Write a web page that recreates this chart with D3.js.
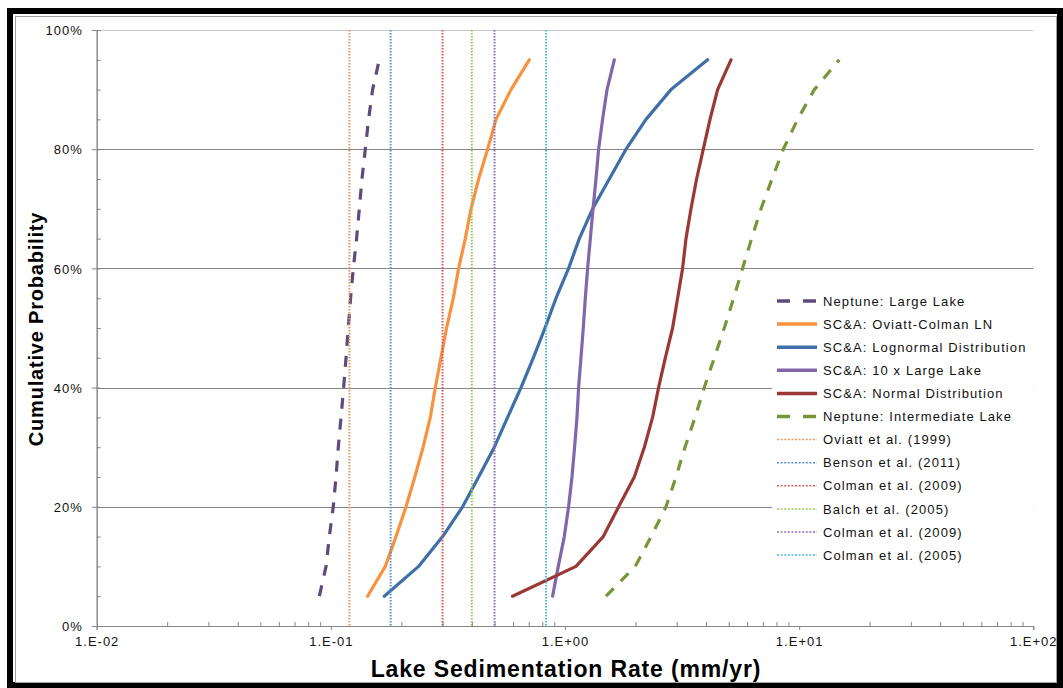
<!DOCTYPE html>
<html>
<head>
<meta charset="utf-8">
<script src="https://cdn.jsdelivr.net/npm/d3@7"></script>
<style>
  body { margin: 0; background: #fff; }
  text { font-family: "Liberation Sans", Arial, sans-serif; }
</style>
</head>
<body>
<svg id="chart" width="1063" height="688"></svg>
<script>
// cumulative probability levels shared by all curves
var probs = [0.05, 0.10, 0.15, 0.20, 0.25, 0.30, 0.35, 0.40, 0.45, 0.50,
             0.55, 0.60, 0.65, 0.70, 0.75, 0.80, 0.85, 0.90, 0.95];

// sedimentation rate (mm/yr) at each level
var neptuneLarge = [0.0893, 0.0954, 0.0985, 0.1024, 0.1052, 0.1076, 0.1105, 0.1134, 0.1161, 0.1187,
                    0.1214, 0.1247, 0.1288, 0.1323, 0.1358, 0.1403, 0.1449, 0.1508, 0.1610];
var oviattColman = [0.1435, 0.1708, 0.1897, 0.2094, 0.2283, 0.2477, 0.2659, 0.2793, 0.2954, 0.3120,
                    0.3334, 0.3513, 0.3752, 0.3968, 0.4276, 0.4671, 0.5074, 0.5879, 0.7039];
var lognormal = [0.1691, 0.2370, 0.3001, 0.3653, 0.4276, 0.4990, 0.5686, 0.6487, 0.7322, 0.8214,
                 0.9154, 1.036, 1.151, 1.312, 1.546, 1.822, 2.218, 2.836, 4.064];
var tenLarge = [0.885, 0.936, 0.993, 1.036, 1.071, 1.099, 1.125, 1.143, 1.170, 1.197,
                1.221, 1.249, 1.283, 1.317, 1.356, 1.392, 1.447, 1.512, 1.624];
var normalDist = [0.597, 1.114, 1.457, 1.694, 1.977, 2.182, 2.366, 2.510, 2.682, 2.881,
                  3.026, 3.178, 3.287, 3.452, 3.648, 3.896, 4.162, 4.485, 5.117];
var neptuneInter = [1.496, 1.996, 2.330, 2.700, 2.979, 3.254, 3.592, 3.935, 4.341, 4.790,
                    5.248, 5.734, 6.265, 6.873, 7.656, 8.557, 9.849, 11.61, 14.84];

var curveNames = ["Neptune: Large Lake", "SC&A: Oviatt-Colman LN", "SC&A: Lognormal Distribution",
                  "SC&A: 10 x Large Lake", "SC&A: Normal Distribution", "Neptune: Intermediate Lake"];
var curveValues = [neptuneLarge, oviattColman, lognormal, tenLarge, normalDist, neptuneInter];
var curveColors = ["#5f4a7c", "#f7923f", "#3f6fa6", "#8066aa", "#9a3835", "#77963a"];
var curveDashed = [true, false, false, false, false, true];

// published point estimates, drawn as dotted verticals
var refNames = ["Oviatt et al. (1999)", "Benson et al. (2011)", "Colman et al. (2009)",
                "Balch et al. (2005)", "Colman et al. (2009)", "Colman et al. (2005)"];
var refValues = [0.12, 0.18, 0.30, 0.40, 0.50, 0.83];
var refColors = ["#e8955c", "#5b8fd0", "#d9595a", "#9cc35a", "#8a6fc0", "#4cb8d4"];

var xTicks = [0.01, 0.1, 1, 10, 100];
var xTickLabels = ["1.E-02", "1.E-01", "1.E+00", "1.E+01", "1.E+02"];
var yTicks = [0, 0.2, 0.4, 0.6, 0.8, 1.0];

(function() {
  var svg = d3.select("#chart");
  var pLeft = 96.7, pRight = 1033.3, pTop = 30, pBottom = 626;

  var x = d3.scaleLog().domain([0.01, 100]).range([pLeft, pRight]);
  var y = d3.scaleLinear().domain([0, 1]).range([pBottom, pTop]);

  // outer frame
  svg.append("rect").attr("x", 10).attr("y", 11).attr("width", 1050).attr("height", 674)
    .attr("fill", "#fff").attr("stroke", "#000").attr("stroke-width", 6);
  svg.append("rect").attr("x", 15.5).attr("y", 16.5).attr("width", 1041).attr("height", 666)
    .attr("fill", "none").attr("stroke", "#a0a0a0").attr("stroke-width", 1);

  // gridlines
  svg.append("g").selectAll("line").data(yTicks.slice(1)).enter().append("line")
    .attr("x1", pLeft).attr("x2", pRight)
    .attr("y1", function(d) { return Math.round(y(d)) + 0.5; })
    .attr("y2", function(d) { return Math.round(y(d)) + 0.5; })
    .attr("stroke", function(d) { return d === 1 ? "#c8c8c8" : "#868686"; })
    .attr("stroke-width", 1);

  var line = d3.line()
    .x(function(d) { return x(d[0]); })
    .y(function(d) { return y(d[1]); });

  // curves
  curveValues.forEach(function(vals, i) {
    var pts = vals.map(function(v, j) { return [v, probs[j]]; });
    svg.append("path").datum(pts)
      .attr("d", line)
      .attr("fill", "none")
      .attr("stroke", curveColors[i])
      .attr("stroke-width", 3.2)
      .attr("stroke-linejoin", "round")
      .attr("stroke-linecap", curveDashed[i] ? "butt" : "round")
      .attr("stroke-dasharray", curveDashed[i] ? "11,10" : null);
  });

  // reference lines
  svg.append("g").selectAll("line").data(refValues).enter().append("line")
    .attr("x1", function(d) { return x(d); }).attr("x2", function(d) { return x(d); })
    .attr("y1", pTop).attr("y2", pBottom)
    .attr("stroke", function(d, i) { return refColors[i]; })
    .attr("stroke-width", 2)
    .attr("stroke-dasharray", "1.6,1.4");

  // axes
  var xAxis = svg.append("g").attr("transform", "translate(0," + pBottom + ")")
    .call(d3.axisBottom(x).tickValues(xTicks)
      .tickFormat(function(d, i) { return xTickLabels[i]; })
      .tickSize(4).tickPadding(7));
  var minors = [];
  [0.01, 0.1, 1, 10].forEach(function(dec) {
    for (var k = 2; k <= 9; k++) minors.push(dec * k);
  });
  var xMinor = svg.append("g").attr("transform", "translate(0," + pBottom + ")")
    .call(d3.axisBottom(x).tickValues(minors).tickFormat("").tickSize(-4).tickSizeOuter(0));

  var yAxis = svg.append("g").attr("transform", "translate(" + pLeft + ",0)")
    .call(d3.axisLeft(y).tickValues(yTicks).tickFormat(d3.format(".0%"))
      .tickSize(5).tickPadding(9).tickSizeOuter(0));
  var yMinor = svg.append("g").attr("transform", "translate(" + pLeft + ",0)")
    .call(d3.axisLeft(y).tickValues(d3.range(0, 21).map(function(k) { return k / 20; }))
      .tickFormat("").tickSize(-4).tickSizeOuter(0));

  [xAxis, xMinor, yAxis, yMinor].forEach(function(g) {
    g.selectAll("path, line").attr("stroke", "#868686");
    g.selectAll("text").attr("fill", "#111").style("font-size", "13px")
      .style("letter-spacing", "1px").style("font-family", "'Liberation Sans', Arial, sans-serif");
  });
  yAxis.selectAll("text").attr("dy", "0.36em");

  // axis titles
  svg.append("text").attr("x", 566).attr("y", 677).attr("text-anchor", "middle")
    .style("font-size", "23px").style("font-weight", "bold").style("letter-spacing", "0.85px")
    .text("Lake Sedimentation Rate (mm/yr)");
  svg.append("text").attr("transform", "translate(43,329) rotate(-90)").attr("text-anchor", "middle")
    .style("font-size", "20px").style("font-weight", "bold").style("letter-spacing", "0.8px")
    .text("Cumulative Probability");

  // legend
  var legend = svg.append("g");
  legend.append("rect").attr("x", 772).attr("y", 286).attr("width", 261).attr("height", 282)
    .attr("fill", "#fff");
  var legNames = curveNames.concat(refNames);
  legNames.forEach(function(name, i) {
    var ly = 301 + i * 23.1;
    var row = legend.append("g");
    var isCurve = i < curveNames.length;
    row.append("line").attr("x1", 777).attr("x2", 817).attr("y1", ly).attr("y2", ly)
      .attr("stroke", isCurve ? curveColors[i] : refColors[i - curveNames.length])
      .attr("stroke-width", isCurve ? 3.5 : 1.5)
      .attr("stroke-dasharray", isCurve ? (curveDashed[i] ? "13,13" : null) : "2,1.6");
    row.append("text").attr("x", 823).attr("y", ly).attr("dy", "0.36em")
      .style("font-size", "13px").style("letter-spacing", "1.1px").attr("fill", "#111")
      .text(name);
  });
})();
</script>
</body>
</html>
